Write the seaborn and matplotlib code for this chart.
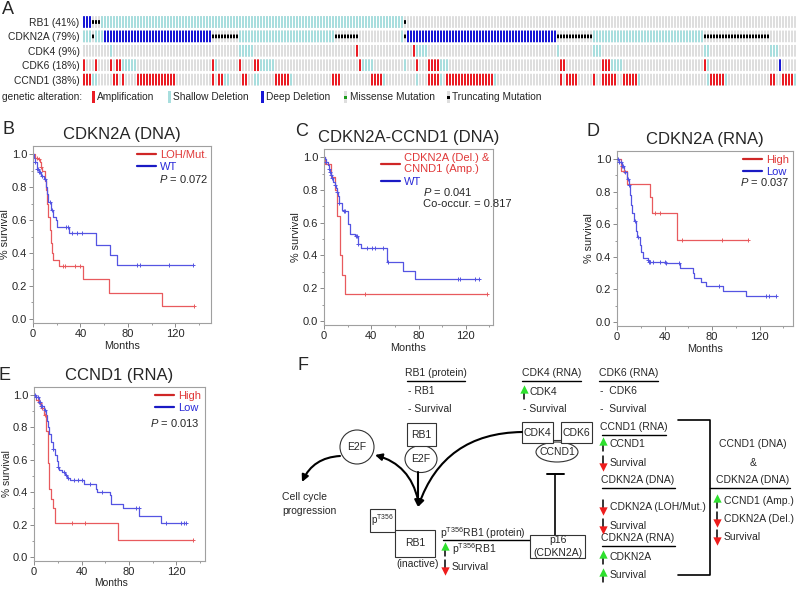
import matplotlib
matplotlib.use('Agg')
import matplotlib.pyplot as plt
from matplotlib.lines import Line2D
from matplotlib.patches import Rectangle, Ellipse
from matplotlib.ticker import FormatStrFormatter, MultipleLocator
import numpy as np
import pandas as pd
import seaborn as sns

# ---------------- A: oncoprint ----------------
n_samples = 238
genes = ['RB1', 'CDKN2A', 'CDK4', 'CDK6', 'CCND1']
gene_pct = [41, 79, 9, 18, 38]
# runs of samples: (first, last, alteration)
rb1_runs = [(0, 2, 'deep'), (3, 5, 'trunc'), (6, 106, 'shallow'), (107, 107, 'trunc')]
cdkn2a_runs = [(0, 2, 'shallow'), (3, 3, 'trunc'), (4, 6, 'shallow'), (7, 42, 'deep'),
               (43, 51, 'trunc'), (52, 83, 'shallow'), (84, 91, 'trunc'), (106, 106, 'shallow'),
               (107, 107, 'trunc'), (108, 157, 'deep'), (158, 169, 'trunc'),
               (170, 206, 'shallow'), (207, 228, 'trunc')]
cdk4_runs = [(9, 9, 'shallow'), (52, 56, 'shallow'), (91, 91, 'amp'), (110, 110, 'amp'),
             (111, 114, 'shallow'), (158, 158, 'shallow'), (170, 172, 'shallow'),
             (207, 208, 'shallow'), (229, 231, 'shallow')]
cdk6_runs = [(0, 0, 'amp'), (4, 4, 'amp'), (9, 9, 'amp'), (11, 12, 'amp'), (13, 17, 'shallow'),
             (43, 43, 'amp'), (44, 44, 'shallow'), (52, 52, 'amp'), (57, 58, 'amp'),
             (59, 63, 'shallow'), (92, 92, 'amp'), (93, 96, 'shallow'), (107, 107, 'shallow'),
             (111, 111, 'amp'), (115, 118, 'amp'), (119, 121, 'shallow'), (159, 160, 'amp'),
             (173, 175, 'amp'), (176, 179, 'shallow'), (207, 207, 'amp'), (208, 208, 'shallow'),
             (232, 232, 'deep')]
ccnd1_runs = [(0, 2, 'amp'), (3, 4, 'shallow'), (10, 11, 'amp'), (13, 13, 'amp'), (18, 30, 'amp'),
              (43, 43, 'amp'), (45, 46, 'amp'), (47, 48, 'shallow'), (53, 54, 'amp'),
              (57, 58, 'shallow'), (64, 68, 'amp'), (69, 69, 'shallow'), (83, 85, 'amp'),
              (96, 99, 'amp'), (100, 100, 'shallow'), (111, 111, 'shallow'), (115, 118, 'amp'),
              (119, 119, 'shallow'), (121, 136, 'amp'), (137, 137, 'shallow'), (159, 159, 'amp'),
              (161, 164, 'amp'), (170, 170, 'amp'), (173, 177, 'amp'), (180, 184, 'amp'),
              (185, 185, 'shallow'), (208, 208, 'shallow'), (209, 213, 'amp'),
              (214, 214, 'shallow'), (229, 230, 'amp'), (233, 236, 'amp'), (237, 237, 'shallow')]
gene_runs = [rb1_runs, cdkn2a_runs, cdk4_runs, cdk6_runs, ccnd1_runs]

# ---------------- Kaplan-Meier curves (months, survival) ----------------
b_mut_t = [0, 2, 4, 6, 7, 8, 10, 11, 12, 13, 14, 15, 16, 17, 22, 42, 64, 109, 136]
b_mut_s = [1.0, 0.98, 0.97, 0.95, 0.92, 0.90, 0.84, 0.78, 0.70, 0.62, 0.54, 0.46, 0.40, 0.36,
           0.32, 0.24, 0.16, 0.08, 0.08]
b_mut_cens = [3, 5, 7, 25, 27, 35, 40, 136]
b_wt_t = [0, 1, 2, 3, 5, 7, 9, 11, 12, 13, 15, 17, 19, 20, 30, 53, 65, 71, 135]
b_wt_s = [1.0, 0.98, 0.95, 0.91, 0.89, 0.87, 0.85, 0.80, 0.76, 0.71, 0.66, 0.62, 0.60, 0.56,
          0.52, 0.45, 0.39, 0.325, 0.325]
b_wt_cens = [2, 3, 4, 5, 6, 8, 10, 14, 16, 28, 29.5, 33, 37, 41, 88, 90, 115, 135]

c_codel_t = [0, 1, 6, 9.5, 11, 13.5, 15.5, 17.5, 138]
c_codel_s = [1.0, 0.96, 0.88, 0.80, 0.64, 0.40, 0.28, 0.167, 0.167]
c_codel_cens = [35, 138]
c_wt_t = [0, 1, 2, 3, 4, 5, 6, 7, 8, 9, 10, 11, 12, 13, 15, 16, 20, 22, 26, 29, 31, 53, 67, 77, 131]
c_wt_s = [1.0, 0.99, 0.97, 0.95, 0.93, 0.91, 0.89, 0.87, 0.85, 0.83, 0.81, 0.79, 0.76, 0.72,
          0.68, 0.67, 0.59, 0.53, 0.52, 0.47, 0.445, 0.36, 0.305, 0.258, 0.258]
c_wt_cens = [2, 4, 5, 6, 7, 9, 11, 13, 17, 18, 27, 28, 29, 36, 41, 43, 50, 54, 113, 115, 128, 131]

d_high_t = [0, 3.6, 8.4, 27.4, 29.4, 50.6, 110]
d_high_s = [1.0, 0.93, 0.85, 0.77, 0.67, 0.505, 0.505]
d_high_cens = [6, 32, 36, 55, 88, 110]
d_low_t = [0, 2, 4, 6, 8, 10, 11, 12, 13, 14, 16, 17, 19, 20, 22, 26, 27, 41, 53, 64, 65, 71, 75,
           89, 108.5, 134]
d_low_s = [1.0, 0.98, 0.96, 0.92, 0.88, 0.84, 0.78, 0.72, 0.67, 0.62, 0.56, 0.52, 0.47, 0.43,
           0.39, 0.38, 0.37, 0.36, 0.33, 0.30, 0.27, 0.245, 0.22, 0.19, 0.158, 0.158]
d_low_cens = [1, 2, 3, 4, 5, 7, 9, 10, 15, 18, 26, 27, 28, 30, 36, 40, 41, 52, 86, 125, 128, 134]

e_high_t = [0, 2, 4, 6, 8, 10, 12, 13, 14.7, 15.8, 17.5, 70.6, 133.5]
e_high_s = [1.0, 0.97, 0.95, 0.92, 0.88, 0.78, 0.58, 0.42, 0.36, 0.30, 0.21, 0.105, 0.105]
e_high_cens = [3, 5, 7, 9, 32, 42.6, 133.5]
e_low_t = [0, 2, 4, 6, 8, 10, 11, 12, 13, 14, 16, 18, 19, 20, 21, 24, 26, 28, 30, 42, 52, 53, 64,
           65, 75, 88.6, 106.6, 128]
e_low_s = [1.0, 0.99, 0.96, 0.93, 0.91, 0.88, 0.84, 0.80, 0.76, 0.71, 0.67, 0.63, 0.59, 0.556,
           0.535, 0.525, 0.505, 0.49, 0.475, 0.45, 0.42, 0.40, 0.38, 0.33, 0.30, 0.255, 0.21, 0.21]
e_low_cens = [1, 2, 3, 4, 5, 6, 7, 9, 16, 20, 25, 27, 29, 34, 37, 40, 47, 57, 86, 88, 111, 124,
              126, 128]

sns.set_style('ticks')
plt.rcParams['font.family'] = ['Liberation Sans', 'DejaVu Sans']
plt.rcParams['mathtext.fontset'] = 'custom'
plt.rcParams['mathtext.rm'] = 'Liberation Sans'
plt.rcParams['mathtext.it'] = 'Liberation Sans:italic'

W, H = 798, 590
fig = plt.figure(figsize=(W / 100, H / 100), dpi=100)


def px_axes(l, t, r, b):
    return fig.add_axes([l / W, 1 - b / H, (r - l) / W, (b - t) / H])


# overlay in pixel coordinates for letters, legend of A, and diagram F
ov = fig.add_axes([0, 0, 1, 1])
ov.set_xlim(0, W)
ov.set_ylim(H, 0)
ov.axis('off')

COL = {'amp': '#ea1c24', 'shallow': '#a8dede', 'deep': '#1717d6', 'none': '#dedede'}

# ---- A ----  (3 px per sample column, 2 px cell + 1 px gap)
axA = px_axes(82.5, 14.8, 82.5 + 3 * n_samples, 86.8)
cols = np.arange(n_samples)
CW = 2 / 3
for i, runs in enumerate(gene_runs):
    axA.bar(cols, 0.81, bottom=i - 0.405, width=CW, color=COL['none'], linewidth=0, snap=False)
    for kind in ['amp', 'shallow', 'deep']:
        xs = [c for a, b, k in runs if k == kind for c in range(a, b + 1)]
        if xs:
            axA.bar(xs, 0.81, bottom=i - 0.405, width=CW, color=COL[kind], linewidth=0,
                    snap=False)
    xs = [c for a, b, k in runs if k == 'trunc' for c in range(a, b + 1)]
    if xs:
        axA.bar(xs, 0.26, bottom=i - 0.13, width=CW, color='black', linewidth=0, snap=False)
axA.set_xlim(-0.5, n_samples - 0.5)
axA.set_ylim(4.5, -0.5)
axA.set_xticks([])
axA.set_yticks(range(len(genes)))
axA.set_yticklabels([f'{g} ({p}%)' for g, p in zip(genes, gene_pct)], fontsize=7.4)
axA.tick_params(axis='y', length=0, pad=2)
sns.despine(ax=axA, left=True, bottom=True)

ov.text(7.5, 9, 'A', fontsize=13, ha='center', va='center')
ov.text(2, 97, 'genetic alteration:', fontsize=7.3, va='center')
leg_items = [(93, 'amp', None, 'Amplification'), (169, 'shallow', None, 'Shallow Deletion'),
             (262, 'deep', None, 'Deep Deletion'), (345.5, 'none', '#1a9a1a', 'Missense Mutation'),
             (448.5, 'none', 'black', 'Truncating Mutation')]
for x, kind, dot, lab in leg_items:
    ov.add_patch(Rectangle((x - 1.5, 91), 3, 12, color=COL[kind], lw=0))
    if dot:
        ov.add_patch(Rectangle((x - 1.5, 95.5), 3, 3.5, color=dot, lw=0))
    ov.text(x + 4, 97, lab, fontsize=7.3, va='center')

# ---- KM panels ----
RED_LINE, BLUE_LINE = '#e85a5e', '#5454e2'
RED_LEG, BLUE_LEG = '#cf2626', '#1a1ac4'
RED_TXT, BLUE_TXT = '#e03838', '#2a2ad8'


def draw_curve(ax, t, s, cens, color):
    df = pd.DataFrame({'months': t, 'surv': s})
    sns.lineplot(data=df, x='months', y='surv', drawstyle='steps-post', color=color, lw=0.9,
                 estimator=None, sort=False, ax=ax)
    idx = np.searchsorted(t, cens, side='right') - 1
    cdf = pd.DataFrame({'months': cens, 'surv': np.asarray(s)[idx]})
    sns.scatterplot(data=cdf, x='months', y='surv', marker='+', s=11, color=color,
                    linewidth=0.7, ax=ax, zorder=3)


def km_panel(box, xmax, title, letter, letter_xy, curves, labels, ptxt, pxy, pha, extra=None):
    ax = px_axes(*box)
    for t, s, cens, c in curves:
        draw_curve(ax, t, s, cens, c)
    ax.set_xlim(0, xmax)
    ax.set_ylim(-0.025, 1.05)
    ax.set_xticks([0, 40, 80, 120])
    ax.xaxis.set_minor_locator(MultipleLocator(20))
    ax.set_yticks(np.arange(0, 1.01, 0.2))
    ax.yaxis.set_minor_locator(MultipleLocator(0.1))
    ax.yaxis.set_major_formatter(FormatStrFormatter('%.1f'))
    ax.tick_params(direction='out', length=2.6, width=0.7, color='#8a8a8a', labelsize=8, pad=1.5)
    ax.tick_params(which='minor', direction='out', length=1.6, width=0.6, color='#8a8a8a')
    for sp in ax.spines.values():
        sp.set_color('#a0a0a0')
        sp.set_linewidth(0.8)
    ax.set_xlabel('Months', fontsize=7.8, labelpad=1.5)
    ax.set_ylabel('% survival', fontsize=7.8, labelpad=1.5)
    ax.set_title(title, fontsize=12, pad=5)
    handles = [Line2D([], [], color=RED_LEG, lw=1.6), Line2D([], [], color=BLUE_LEG, lw=1.6)]
    leg = ax.legend(handles, labels, loc='upper right', frameon=False, fontsize=8,
                    handlelength=1.7, handletextpad=0.35, labelspacing=0.2, borderpad=0.15,
                    borderaxespad=0.2)
    for txt, c in zip(leg.get_texts(), [RED_TXT, BLUE_TXT]):
        txt.set_color(c)
    ax.text(pxy[0], pxy[1], r'$P$ = ' + ptxt, transform=ax.transAxes, ha=pha, va='center',
            fontsize=8)
    if extra:
        ax.text(extra[1][0], extra[1][1], extra[0], transform=ax.transAxes, ha=pha,
                va='center', fontsize=8)
    ov.text(letter_xy[0], letter_xy[1], letter, fontsize=13, ha='center', va='center')
    return ax


km_panel((33, 146, 211, 323), 150, 'CDKN2A (DNA)', 'B', (8, 130),
         [(b_mut_t, b_mut_s, b_mut_cens, RED_LINE), (b_wt_t, b_wt_s, b_wt_cens, BLUE_LINE)],
         ['LOH/Mut.', 'WT'], '0.072', (0.983, 0.814), 'right')
km_panel((324, 149, 493, 325), 143, 'CDKN2A-CCND1 (DNA)', 'C', (302, 132),
         [(c_codel_t, c_codel_s, c_codel_cens, RED_LINE), (c_wt_t, c_wt_s, c_wt_cens, BLUE_LINE)],
         ['CDKN2A (Del.) &\nCNND1 (Amp.)', 'WT'], '0.041', (0.586, 0.756), 'left',
         extra=('Co-occur. = 0.817', (0.586, 0.6875)))
km_panel((617, 151, 793, 326), 148, 'CDKN2A (RNA)', 'D', (593, 132),
         [(d_high_t, d_high_s, d_high_cens, RED_LINE), (d_low_t, d_low_s, d_low_cens, BLUE_LINE)],
         ['High', 'Low'], '0.037', (0.977, 0.823), 'right')
axE = km_panel((34, 387, 205, 561), 144, 'CCND1 (RNA)', 'E', (5, 375),
               [(e_high_t, e_high_s, e_high_cens, RED_LINE),
                (e_low_t, e_low_s, e_low_cens, BLUE_LINE)],
               ['High', 'Low'], '0.013', (0.966, 0.795), 'right')
# E sits at the figure's edge: keep its axis labels inside the canvas
axE.set_ylabel('% survival', fontsize=7.4)
axE.yaxis.set_label_coords(-0.127, 0.5)
axE.set_xlabel('Months', fontsize=7.4)
axE.xaxis.set_label_coords(0.45, -0.098)

# ---- F: pathway diagram (pixel coordinates) ----
FS = 7.5
EC = '#333333'
ov.text(303, 365, 'F', fontsize=13, ha='center', va='center')


def txt(x, y, s, ha='left'):
    ov.text(x, y, s, fontsize=FS, ha=ha, va='center')


def header(xc, y, s, x0, x1):
    txt(xc, y, s, ha='center')
    ov.plot([x0, x1], [y + 8, y + 8], color='k', lw=1.0)


def box(x0, y0, x1, y1, label=None, fs=FS):
    ov.add_patch(Rectangle((x0, y0), x1 - x0, y1 - y0, facecolor='white', edgecolor=EC, lw=0.8,
                           zorder=3))
    if label:
        ov.text((x0 + x1) / 2, (y0 + y1) / 2, label, fontsize=fs, ha='center', va='center',
                zorder=4, linespacing=1.3)


def ell(xc, yc, w, h, label):
    ov.add_patch(Ellipse((xc, yc), w, h, facecolor='white', edgecolor=EC, lw=0.8, zorder=2))
    ov.text(xc, yc, label, fontsize=FS, ha='center', va='center', zorder=4)


def updown(x, y, up):
    if up:
        ov.plot([x, x], [y - 2, y + 7], color='k', lw=1.1)
        ov.scatter([x], [y - 3.5], marker='^', s=36, color='#2ee02e', linewidths=0, zorder=5)
    else:
        ov.plot([x, x], [y - 7, y + 2], color='k', lw=1.1)
        ov.scatter([x], [y + 3.5], marker='v', s=36, color='#ee1c1c', linewidths=0, zorder=5)


def arrow(p0, p1, rad):
    ov.annotate('', xy=p1, xytext=p0,
                arrowprops=dict(arrowstyle='-|>', connectionstyle=f'arc3,rad={rad}', lw=1.5,
                                color='k', shrinkA=0, shrinkB=0, mutation_scale=10))


PT = r'p$^{\mathrm{T356}}$'

# RB1 (protein)
header(436, 373, 'RB1 (protein)', 407, 465)
txt(408, 391, '- RB1')
txt(408, 409, '- Survival')
ell(421, 459, 32, 27, 'E2F')
box(407, 423, 436, 446, 'RB1')

# CDK4 (RNA)
header(552, 373, 'CDK4 (RNA)', 522, 581)
updown(524, 392, True)
txt(530, 392, 'CDK4')
txt(523, 409, '- Survival')
ell(557, 452, 42, 20, 'CCND1')
ov.plot([553, 561], [440, 440], color=EC, lw=0.8)
box(522, 422, 553, 443, 'CDK4')
box(561, 422, 592, 443, 'CDK6')

# CDK6 (RNA)
header(629, 373, 'CDK6 (RNA)', 599, 658)
txt(600, 391, '-  CDK6')
txt(600, 409, '-  Survival')

# free E2F and cell cycle
ell(357, 447, 34, 34, 'E2F')
txt(282, 497, 'Cell cycle')
txt(282, 511, 'progression')
arrow((340, 456), (302, 482), 0.3)
arrow((522, 432), (418, 507), 0.35)
arrow((418, 472), (418, 507), 0.0)
arrow((418, 500), (375, 455), 0.3)

# inhibition by p16
ov.plot([555, 555], [535, 474], color='k', lw=1.2)
ov.plot([547, 564], [474, 474], color='k', lw=1.4)
box(530, 535, 585, 558, 'p16\n(CDKN2A)')

# phospho-RB1
box(370, 509, 395, 532, PT, fs=7)
box(395, 530, 435, 557, 'RB1')
txt(418, 564, '(inactive)', ha='center')
txt(483, 533, PT + 'RB1 (protein)', ha='center')
ov.plot([443, 530], [540, 540], color='k', lw=1.0)
updown(445, 549, True)
txt(452, 549, PT + 'RB1')
updown(445, 567, False)
txt(452, 567, 'Survival')

# right column
header(634, 427, 'CCND1 (RNA)', 602, 666)
updown(603, 444, True)
txt(610, 444, 'CCND1')
updown(603, 463, False)
txt(610, 463, 'Survival')
header(638, 480, 'CDKN2A (DNA)', 602, 675)
updown(603, 507, False)
txt(610, 507, 'CDKN2A (LOH/Mut.)')
updown(603, 526, False)
txt(610, 526, 'Survival')
header(638, 538, 'CDKN2A (RNA)', 602, 675)
updown(603, 557, True)
txt(610, 557, 'CDKN2A')
updown(603, 575, True)
txt(610, 575, 'Survival')

# bracket and combined DNA
ov.plot([678, 710, 710, 678], [420, 420, 575, 575], color='k', lw=1.2)
ov.plot([710, 790], [488, 488], color='k', lw=1.0)
txt(753, 444, 'CCND1 (DNA)', ha='center')
txt(753, 463, '&', ha='center')
txt(753, 480, 'CDKN2A (DNA)', ha='center')
updown(717, 501, True)
txt(724, 501, 'CCND1 (Amp.)')
updown(717, 519, False)
txt(724, 519, 'CDKN2A (Del.)')
updown(717, 537, False)
txt(724, 537, 'Survival')

fig.savefig('out.png', dpi=100)
